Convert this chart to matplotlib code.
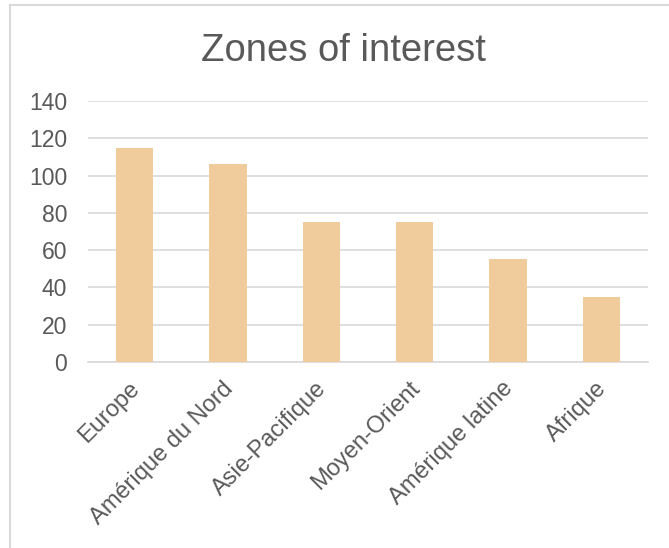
import matplotlib
matplotlib.use("Agg")
import matplotlib.pyplot as plt
from matplotlib.lines import Line2D
from matplotlib.transforms import ScaledTranslation

categories = ["Europe", "Amérique du Nord", "Asie-Pacifique", "Moyen-Orient", "Amérique latine", "Afrique"]
values = [115, 106, 75, 75, 55, 35]
yticks = [0, 20, 40, 60, 80, 100, 120, 140]
title = "Zones of interest"

plt.rcParams['font.family'] = ['Liberation Sans', 'DejaVu Sans']
W, H = 669, 548
fig = plt.figure(figsize=(W/100, H/100), dpi=100)
fig.patch.set_facecolor('white')

# outer chart frame (cropped on right/bottom)
fig.add_artist(Line2D([9.5/W, 9.5/W], [0, 1 - 4.5/H], transform=fig.transFigure,
                      color='#D9D9D9', linewidth=1.5))
fig.add_artist(Line2D([9.5/W, 1], [1 - 4.5/H, 1 - 4.5/H], transform=fig.transFigure,
                      color='#D9D9D9', linewidth=1.5))

x0, x1 = 88, 648
y0, y1 = 362, 101
ax = fig.add_axes([x0/W, 1 - y0/H, (x1-x0)/W, (y0-y1)/H])
ax.set_xlim(-0.5, len(categories)-0.5)
ax.set_ylim(0, 140)
ax.bar(range(len(categories)), values, width=0.4, color='#F0CC9C', zorder=3)
ax.set_yticks(yticks)
ax.set_yticklabels([str(t) for t in yticks], fontsize=16.5, color='#595959')
ax.set_xticks(range(len(categories)))
ax.set_xticklabels(categories, rotation=45, ha='right', rotation_mode='anchor',
                   fontsize=17, color='#595959')
ax.tick_params(axis='both', length=0)
ax.tick_params(axis='y', pad=15)
ax.tick_params(axis='x', pad=6)
offset = ScaledTranslation(-6/100, -7/100, fig.dpi_scale_trans)
for lbl in ax.get_xticklabels():
    lbl.set_transform(lbl.get_transform() + offset)
ax.grid(axis='y', color='#D9D9D9', linewidth=1.2, zorder=0)
for s in ['top', 'right', 'left']:
    ax.spines[s].set_visible(False)
ax.spines['bottom'].set_color('#D9D9D9')
ax.spines['bottom'].set_linewidth(1.2)

fig.text(343/W, 1 - 61/H, title, ha='center', va='baseline', fontsize=27.5, color='#595959')

fig.savefig("out.png", dpi=100)
